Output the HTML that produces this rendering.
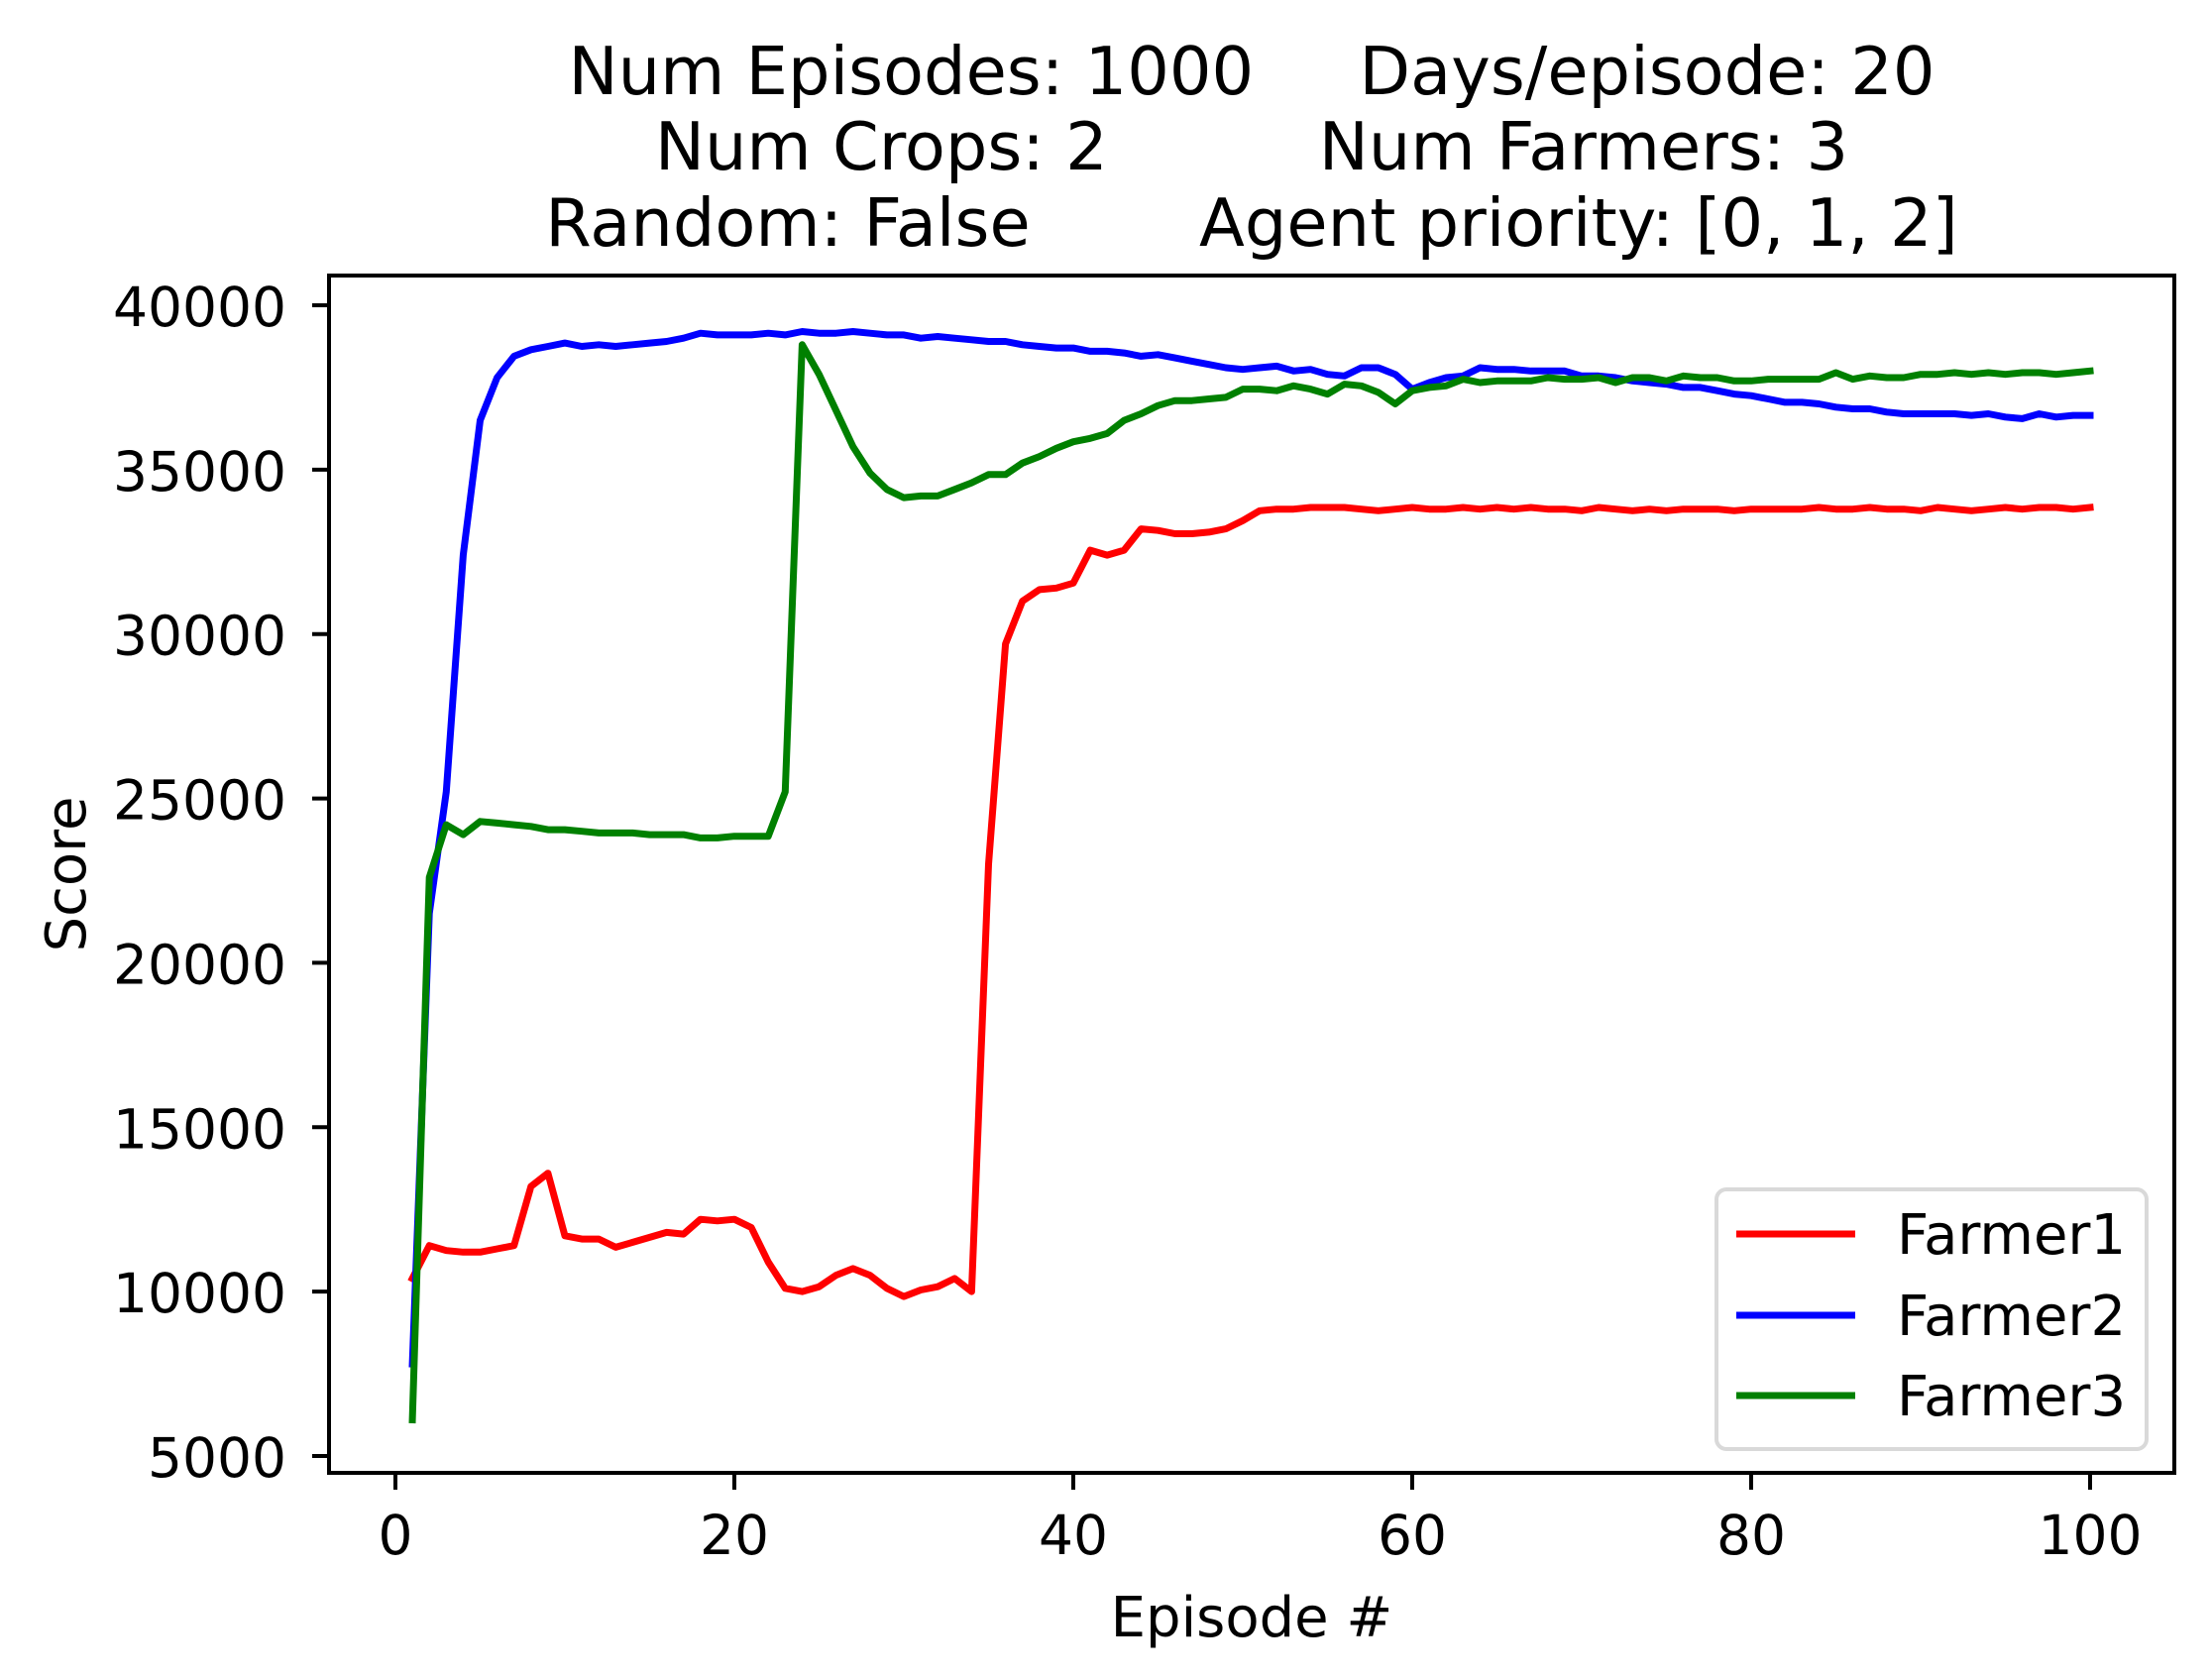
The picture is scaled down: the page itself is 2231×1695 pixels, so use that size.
<!DOCTYPE html>
<html><head><meta charset="utf-8"><style>
html,body{margin:0;padding:0;background:#fff;}
svg{display:block;font-family:"DejaVu Sans","Liberation Sans",sans-serif;}
</style></head><body>
<svg id="chart" width="2231" height="1695" viewBox="0 0 2231 1695" xmlns="http://www.w3.org/2000/svg">
<rect width="2231" height="1695" fill="#fff"/>
<g font-size="67" text-anchor="middle" fill="#000">
<text x="1263" y="95" xml:space="preserve" style="white-space:pre">Num Episodes: 1000     Days/episode: 20</text>
<text x="1263" y="171" xml:space="preserve" style="white-space:pre">Num Crops: 2          Num Farmers: 3</text>
<text x="1263" y="248" xml:space="preserve" style="white-space:pre">Random: False        Agent priority: [0, 1, 2]</text>
</g>
<g id="plot"></g>
<g id="axes"></g>
<text x="1263" y="1651" font-size="56" text-anchor="middle">Episode #</text>
<text x="0" y="0" font-size="56" text-anchor="middle" transform="translate(86,882) rotate(-90)">Score</text>
<g>
<rect x="1732" y="1200" width="434" height="262" rx="10" fill="#fff" fill-opacity="0.8" stroke="#d9d9d9" stroke-width="4"/>
<line x1="1752" y1="1245" x2="1872" y2="1245" stroke="#ff0000" stroke-width="7"/>
<text x="1914" y="1265" font-size="56">Farmer1</text>
<line x1="1752" y1="1327" x2="1872" y2="1327" stroke="#0000ff" stroke-width="7"/>
<text x="1914" y="1347" font-size="56">Farmer2</text>
<line x1="1752" y1="1408" x2="1872" y2="1408" stroke="#008000" stroke-width="7"/>
<text x="1914" y="1428" font-size="56">Farmer3</text>
</g>
</svg>
<script>
const episodes = Array.from({length:100},(_,i)=>i+1);
const farmer1 = [10400,11400,11250,11200,11200,11300,11400,13200,13600,11700,11600,11600,11350,11500,11650,11800,11750,12200,12150,12200,11950,10900,10100,10000,10150,10500,10700,10500,10100,9850,10050,10150,10400,10000,23000,29700,31000,31350,31400,31550,32550,32400,32550,33200,33150,33050,33050,33100,33200,33450,33750,
33800,33800,33850,33850,33850,33800,33750,33800,33850,33800,33800,33850,33800,33850,33800,33850,33800,33800,33750,33850,33800,33750,33800,33750,33800,33800,33800,33750,33800,33800,33800,33800,33850,33800,33800,33850,33800,33800,33750,33850,33800,33750,33800,33850,33800,33850,33850,33800,33850];
const farmer2 = [7800,21500,25200,32400,36500,37800,38450,38650,38750,38850,38750,38800,38750,38800,38850,38900,39000,39150,39100,39100,39100,39150,39100,39200,39150,39150,39200,39150,39100,39100,39000,39050,39000,38950,38900,38900,38800,38750,38700,38700,38600,38600,38550,38450,38500,38400,38300,38200,38100,38050,38100,38150,38000,38050,37900,37850,38100,38100,37900,37450,37650,37800,37850,38100,38050,38050,38000,38000,38000,37850,37850,37800,37700,37650,37600,37500,37500,37400,37300,37250,37150,37050,37050,37000,36900,36850,36850,36750,36700,36700,36700,36700,36650,36700,36600,36550,36700,36600,36650,36650];
const farmer3 = [6100,22600,24200,23900,24300,24250,24200,24150,24050,24050,24000,23950,23950,23950,23900,23900,23900,23800,23800,23850,23850,23850,25200,38800,37900,36800,35700,34900,34400,34150,34200,34200,34400,34600,34850,34850,35200,35400,35650,35850,35950,36100,36500,36700,36950,37100,37100,37150,37200,37450,37450,37400,37550,37450,37300,37600,37550,37350,37000,37400,37500,37550,37750,37650,37700,37700,37700,37800,37750,37750,37800,37650,37800,37800,37700,37850,37800,37800,37700,37700,37750,37750,37750,37750,37950,37750,37850,37800,37800,37900,37900,37950,37900,37950,37900,37950,37950,37900,37950,38000];
const xTicks = [0,20,40,60,80,100];
const yTicks = [5000,10000,15000,20000,25000,30000,35000,40000];

const L=332,R=2194,T=278,B=1486;
const xs = v => 399 + v*17.1;
const ys = v => 1469 - (v-5000)*(1161/35000);
const NS="http://www.w3.org/2000/svg";
const plot=document.getElementById('plot'), axes=document.getElementById('axes');
function mk(tag,attrs,parent){const e=document.createElementNS(NS,tag);for(const k in attrs)e.setAttribute(k,attrs[k]);parent.appendChild(e);return e;}
const series=[[farmer1,'#ff0000','farmer1'],[farmer2,'#0000ff','farmer2'],[farmer3,'#008000','farmer3']];
series.forEach(([d,c,n])=>{
  const pts=d.map((v,i)=>xs(episodes[i]).toFixed(1)+','+ys(v).toFixed(1)).join(' ');
  const p=mk('polyline',{points:pts,fill:'none',stroke:c,'stroke-width':7,'stroke-linejoin':'round','stroke-linecap':'square'},plot);
  
  
});
const frame=mk('rect',{x:L,y:T,width:R-L,height:B-T,fill:'none',stroke:'#000','stroke-width':4},axes);


xTicks.forEach(t=>{
  const x=xs(t);
  const tk=mk('line',{x1:x,y1:B,x2:x,y2:B+17,stroke:'#000','stroke-width':4},axes);
  
  
  const tx=mk('text',{x:x,y:B+82,'font-size':55,'text-anchor':'middle'},axes);
  tx.textContent=t;
  
  
});
yTicks.forEach(t=>{
  const y=ys(t);
  const tk=mk('line',{x1:L-17,y1:y,x2:L,y2:y,stroke:'#000','stroke-width':4},axes);
  
  
  const tx=mk('text',{x:L-43,y:y+21,'font-size':55,'text-anchor':'end'},axes);
  tx.textContent=t;
  
  
});
</script>
</body></html>
